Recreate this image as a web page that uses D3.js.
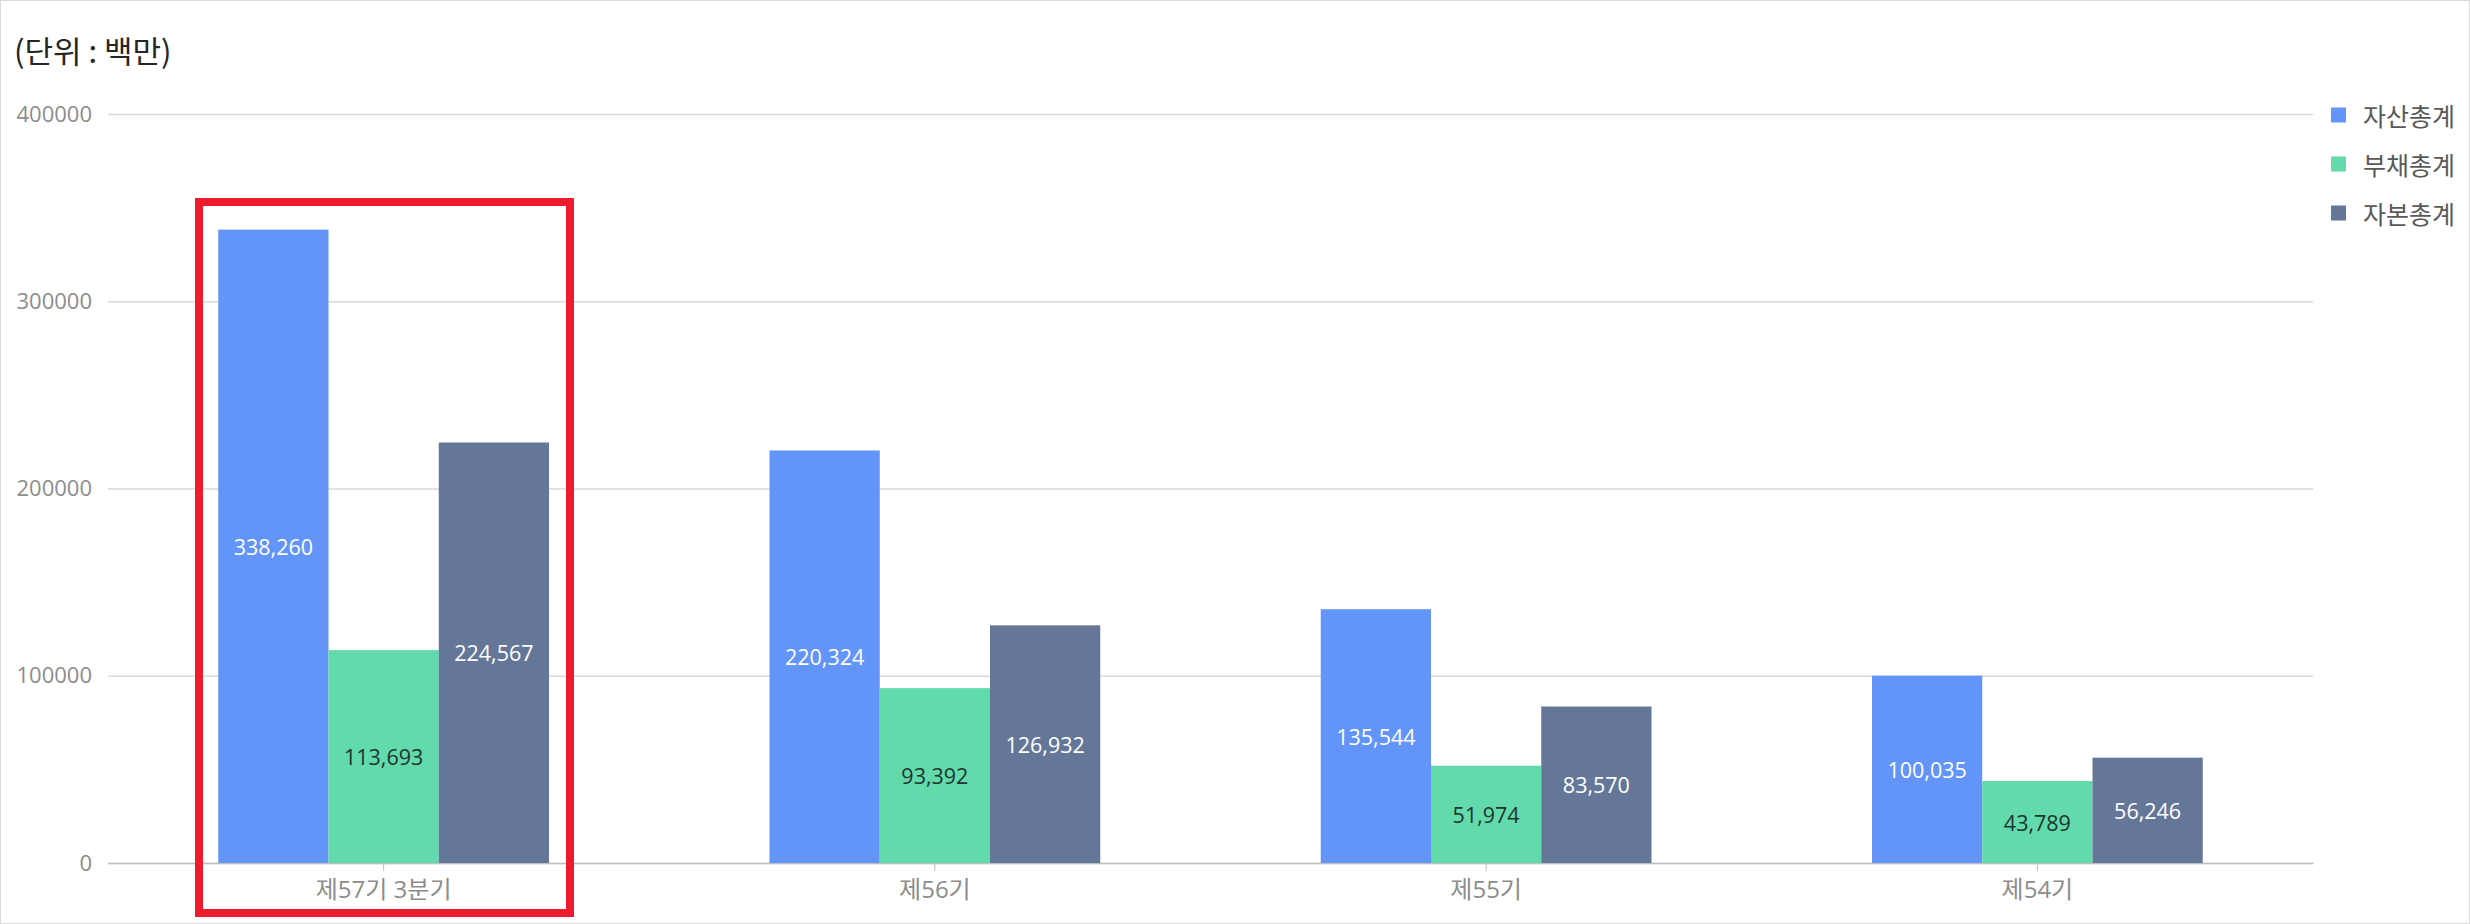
<!DOCTYPE html>
<html><head><meta charset="utf-8">
<script src="https://cdn.jsdelivr.net/npm/d3@7"></script>
<style>
html,body{margin:0;padding:0;background:#fff;}
svg{display:block;font-family:"Open Sans","Noto Sans CJK KR",sans-serif;}
</style></head>
<body>
<svg id="chart" width="2470" height="924"></svg>
<script>
const categories = ["제57기 3분기", "제56기", "제55기", "제54기"];
const seriesNames = ["자산총계", "부채총계", "자본총계"];
const assets = [338260, 220324, 135544, 100035];
const liabilities = [113693, 93392, 51974, 43789];
const equity = [224567, 126932, 83570, 56246];
const yTicks = [0, 100000, 200000, 300000, 400000];
const colors = ["#6395f9", "#62daab", "#657798"];
const labelColors = ["#ffffff", "#1e3530", "#ffffff"];
const unitTitle = "(단위 : 백만)";

const seriesValues = [assets, liabilities, equity];
const svg = d3.select("#chart");
const W = 2470, H = 924;
const plot = {left: 108, right: 2313, top: 114, bottom: 863};

svg.append("rect").attr("x", 0.5).attr("y", 0.5).attr("width", W - 1).attr("height", H - 1)
  .attr("fill", "#fff").attr("stroke", "#d9d9d9");

const x = d3.scaleBand().domain(categories).range([plot.left, plot.right]).paddingInner(0).paddingOuter(0);
const xs = d3.scaleBand().domain(seriesNames).range([x.bandwidth() * 0.2, x.bandwidth() * 0.8]).padding(0);
const y = d3.scaleLinear().domain([0, 400000]).range([plot.bottom, plot.top]);

// title
svg.append("text").attr("x", 14).attr("y", 49).attr("dominant-baseline", "central")
  .attr("font-size", 31).attr("fill", "#262626").attr("font-family", "Noto Sans CJK KR, sans-serif").text(unitTitle);

// grid + y labels
const yAxis = d3.axisLeft(y).tickValues(yTicks).tickSize(-(plot.right - plot.left)).tickPadding(16).tickFormat(d3.format("d"));
const gy = svg.append("g").attr("transform", `translate(${plot.left},0)`).call(yAxis);
gy.select(".domain").remove();
gy.selectAll(".tick line").attr("stroke", "#d9d9d9").attr("stroke-width", 1.3);
gy.selectAll(".tick text").attr("fill", "#8c8c8c").attr("font-size", 22).attr("font-family", "Open Sans, sans-serif");

// x axis
const xAxis = d3.axisBottom(x).tickSize(8).tickSizeOuter(0).tickPadding(10);
const gx = svg.append("g").attr("transform", `translate(0,${plot.bottom})`).call(xAxis);
gx.select(".domain").attr("stroke", "#bfbfbf").attr("stroke-width", 1.5);
gx.selectAll(".tick line").attr("stroke", "#bfbfbf");
gx.selectAll(".tick text").attr("fill", "#8c8c8c").attr("font-size", 24)
  .attr("font-family", "Open Sans, Noto Sans CJK KR, sans-serif");

// bars
const fmt = d3.format(",");
seriesNames.forEach((s, si) => {
  const g = svg.append("g");
  g.selectAll("rect").data(seriesValues[si]).join("rect")
    .attr("x", (d, i) => x(categories[i]) + xs(s))
    .attr("y", d => y(d))
    .attr("width", xs.bandwidth())
    .attr("height", d => y(0) - y(d))
    .attr("fill", colors[si]);
  g.selectAll("text").data(seriesValues[si]).join("text")
    .attr("x", (d, i) => x(categories[i]) + xs(s) + xs.bandwidth() / 2)
    .attr("y", d => (y(d) + y(0)) / 2)
    .attr("text-anchor", "middle").attr("dominant-baseline", "central")
    .attr("font-size", 21.5).attr("fill", labelColors[si])
    .text(d => fmt(d));
});

// highlight box
svg.append("rect").attr("x", 199).attr("y", 202).attr("width", 371).attr("height", 711)
  .attr("fill", "none").attr("stroke", "#ee1a2e").attr("stroke-width", 8);

// legend
const leg = svg.append("g");
seriesNames.forEach((s, i) => {
  const cy = 115 + i * 49;
  leg.append("rect").attr("x", 2331).attr("y", cy - 7.5).attr("width", 15).attr("height", 15).attr("fill", colors[i]);
  leg.append("text").attr("x", 2363).attr("y", cy).attr("dominant-baseline", "central")
    .attr("font-size", 25).attr("fill", "#595959").attr("font-family", "Noto Sans CJK KR, sans-serif").text(s);
});
</script>
</body></html>
